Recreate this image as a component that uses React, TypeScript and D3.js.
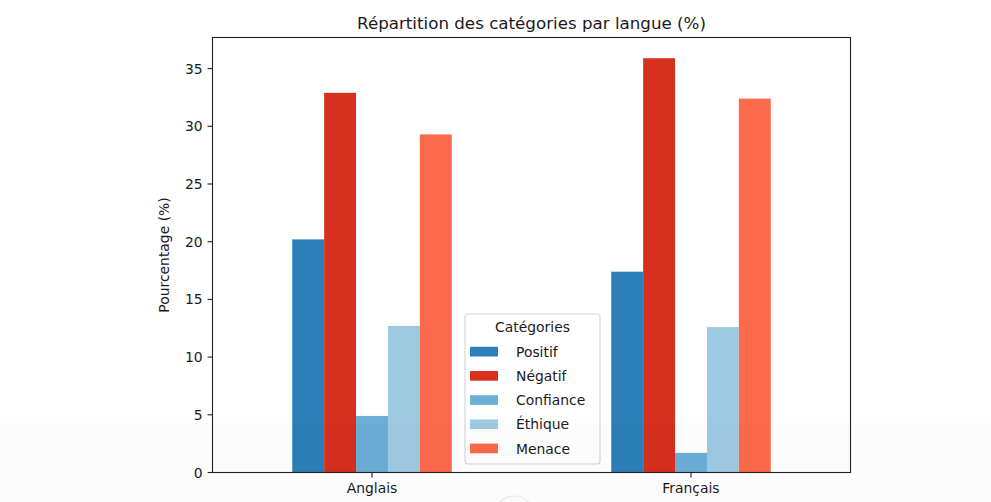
import React from "react";
import * as d3 from "d3";

const languages = ["Anglais", "Français"];
const categories = ["Positif", "Négatif", "Confiance", "Éthique", "Menace"];
const positif = [20.2, 17.4];
const negatif = [32.9, 35.9];
const confiance = [4.9, 1.7];
const ethique = [12.7, 12.6];
const menace = [29.3, 32.4];
const yTicks = [0, 5, 10, 15, 20, 25, 30, 35];
const colors = ["#2c7fb8", "#d7301f", "#6baed6", "#9ecae1", "#fb6a4a"];

const seriesValues = [positif, negatif, confiance, ethique, menace];

const W = 991;
const H = 502;
const left = 212.5;
const right = 850.5;
const top = 37.5;
const bottom = 472.5;
const FONT = "DejaVu Sans, sans-serif";

export default function App() {
  const maxV = d3.max(seriesValues.flat()) as number;
  const y = d3.scaleLinear().domain([0, maxV * 1.05]).range([bottom, top]);
  const xGroup = d3
    .scaleBand<string>()
    .domain(languages)
    .range([left, right])
    .paddingInner(0.5)
    .paddingOuter(0.25);
  const xInner = d3
    .scaleBand<string>()
    .domain(categories)
    .range([0, xGroup.bandwidth()])
    .padding(0);

  const legX = 465;
  const legY = 314;
  const legW = 135;
  const legH = 150;
  const rowY = (i: number) => 351.7 + i * 24.2;

  return (
    <svg
      width={W}
      height={H}
      style={{ position: "fixed", left: 0, top: 0, background: "#fff" }}
      fontFamily={FONT}
    >
      <rect x={0} y={0} width={W} height={H} fill="#fff" />

      {/* title */}
      <text x={(left + right) / 2} y={29} textAnchor="middle" fontSize={16.7} fill="#1a1a1a">
        Répartition des catégories par langue (%)
      </text>

      {/* bars */}
      {languages.map((lang, li) =>
        categories.map((cat, ci) => {
          const v = seriesValues[ci][li];
          const x0 = (xGroup(lang) as number) + (xInner(cat) as number);
          return (
            <rect
              key={lang + cat}
              x={x0}
              y={y(v)}
              width={xInner.bandwidth()}
              height={bottom - y(v)}
              fill={colors[ci]}
            />
          );
        })
      )}

      {/* spines */}
      <rect
        x={left}
        y={top}
        width={right - left}
        height={bottom - top}
        fill="none"
        stroke="#222"
        strokeWidth={1.1}
      />

      {/* y ticks */}
      {yTicks.map((t) => (
        <g key={t}>
          <line x1={left - 4.9} x2={left} y1={y(t)} y2={y(t)} stroke="#222" strokeWidth={1.1} />
          <text x={left - 9.8} y={y(t) + 5} textAnchor="end" fontSize={13.9} fill="#1a1a1a">
            {t}
          </text>
        </g>
      ))}

      {/* x ticks */}
      {languages.map((lang) => {
        const cx = (xGroup(lang) as number) + xGroup.bandwidth() / 2;
        return (
          <g key={lang}>
            <line x1={cx} x2={cx} y1={bottom} y2={bottom + 4.9} stroke="#222" strokeWidth={1.1} />
            <text x={cx} y={493} textAnchor="middle" fontSize={13.9} fill="#1a1a1a">
              {lang}
            </text>
          </g>
        );
      })}

      {/* y label */}
      <text
        transform={`translate(168.5, ${(top + bottom) / 2}) rotate(-90)`}
        textAnchor="middle"
        fontSize={13.9}
        fill="#1a1a1a"
      >
        Pourcentage (%)
      </text>

      {/* legend */}
      <rect
        x={legX}
        y={legY}
        width={legW}
        height={legH}
        rx={3}
        fill="#fff"
        fillOpacity={0.8}
        stroke="#d6d6d6"
        strokeWidth={1.1}
      />
      <text x={legX + legW / 2} y={332.3} textAnchor="middle" fontSize={13.9} fill="#1a1a1a">
        Catégories
      </text>
      {categories.map((cat, i) => (
        <g key={cat}>
          <rect x={470} y={rowY(i) - 4.9} width={28} height={9.7} fill={colors[i]} />
          <text x={516} y={rowY(i) + 5} fontSize={13.9} fill="#1a1a1a">
            {cat}
          </text>
        </g>
      ))}

      {/* faint screenshot overlay at bottom */}
      <rect x={0} y={423} width={W} height={H - 423} fill="#000" fillOpacity={0.012} />
      <circle cx={514} cy={516} r={20} fill="none" stroke="#e8e8e8" strokeWidth={1.2} />
    </svg>
  );
}
